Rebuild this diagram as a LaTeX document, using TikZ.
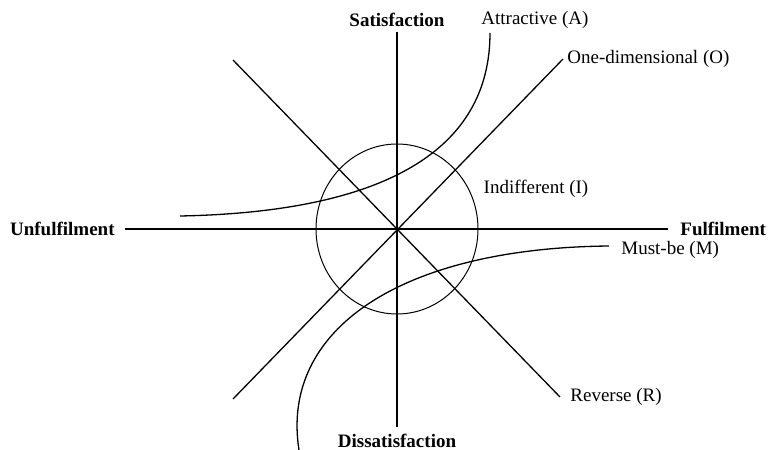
\documentclass[tikz,border=0pt]{standalone}
\usepackage{fontspec}
\setmainfont{Liberation Serif}
\usetikzlibrary{positioning}

\begin{document}
\begin{tikzpicture}[x=0.5pt,y=-0.5pt,
    axis/.style={line width=1.25pt},
    model/.style={line width=0.65pt},
    lbl/.style={font=\fontsize{9.5}{11}\selectfont, inner sep=0pt},
    axlbl/.style={font=\fontsize{9.5}{11}\selectfont\bfseries, inner sep=0pt}]
    \useasboundingbox (0,0) rectangle (768,450);
    % axes
    \coordinate (O) at (397,229);
    \coordinate (up) at (397,32);
    \coordinate (down) at (397,427);
    \coordinate (left) at (125,229);
    \coordinate (right) at (668,229);
    \draw[axis] (left) -- (right);
    \draw[axis] (up) -- (down);
    \node[axlbl] (sat) at (397,20) {Satisfaction};
    \node[axlbl] (dis) at (397,441) {Dissatisfaction};
    \node[axlbl, left=5pt of left] (unf) {Unfulfilment};
    \node[axlbl, right=6pt of right] (ful) {Fulfilment};
    % indifferent
    \draw[line width=0.5pt] (O) ellipse [x radius=40.5pt, y radius=42.5pt];
    \node[lbl] (ind) at (536,189) {Indifferent (I)};
    % one-dimensional and reverse
    \coordinate (nw) at (233,60);
    \coordinate (ne) at (563,59);
    \coordinate (sw) at (233,399);
    \coordinate (se) at (560,397);
    \draw[model] (sw) -- (ne);
    \draw[model] (nw) -- (se);
    \node[lbl, right=2pt of ne] (one) {One-dimensional (O)};
    \node[lbl, right=5pt of se] (rev) {Reverse (R)};
    % attractive
    \coordinate (a0) at (180,216);
    \coordinate (a1) at (490,33);
    \draw[model] (a0) .. controls (385,212) and (490,150) .. (a1);
    \node[lbl, anchor=west] (attr) at (481,20) {Attractive (A)};
    % must-be
    \coordinate (m0) at (609,246);
    \coordinate (m1) at (299,450);
    \draw[model] (m0) .. controls (400,248) and (280,330) .. (m1);
    \node[lbl, right=6pt of m0, yshift=-2pt] (must) {Must-be (M)};
\end{tikzpicture}
\end{document}
